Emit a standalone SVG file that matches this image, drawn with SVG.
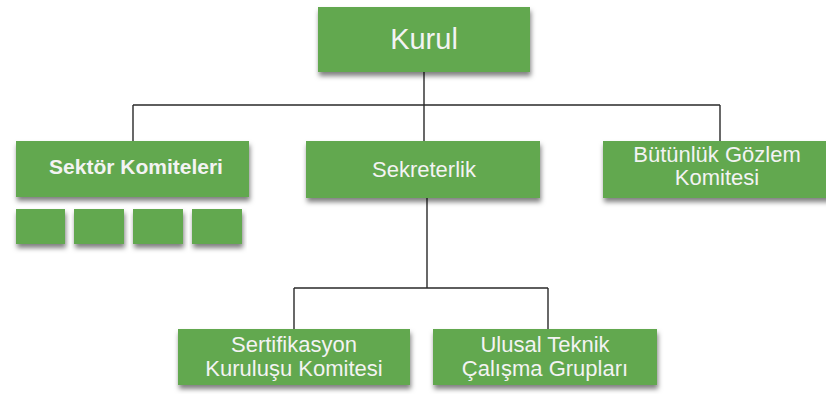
<svg xmlns="http://www.w3.org/2000/svg" width="826" height="394" viewBox="0 0 826 394">
  <style>
    .box { fill: #62a850; filter: url(#shadow); }
    .lbl { font-family: "Liberation Sans", Arial, sans-serif; font-size: 22px; fill: #f3f3f3; text-anchor: middle; }
    .big { font-size: 29px; }
    .strong { font-size: 21px; font-weight: bold; }
    .wire { fill: none; stroke: #2a2a2a; stroke-width: 1.4; }
  </style>
  <defs>
    <filter id="shadow" x="-10%" y="-20%" width="120%" height="160%">
      <feDropShadow dx="1" dy="4" stdDeviation="2.5" flood-color="#000" flood-opacity="0.5"/>
    </filter>
  </defs>
  <rect width="826" height="394" fill="#ffffff"/>

  <g id="connectors">
    <path class="wire" d="M424 72 V105 M133 105 H720 M133 105 V141 M424 105 V141 M720 105 V141"/>
    <path class="wire" d="M427 198 V288 M294 288 H548 M294 288 V329 M548 288 V329"/>
  </g>

  <g id="kurul">
    <rect class="box" x="318" y="7" width="212" height="65"/>
    <text class="lbl big" x="424" y="49">Kurul</text>
  </g>

  <g id="sektor-komiteleri">
    <rect class="box" x="16" y="141" width="233" height="56"/>
    <text class="lbl strong" x="136" y="174">Sektör Komiteleri</text>
  </g>

  <g id="sektor-alt">
    <rect class="box" x="16" y="209" width="49" height="35"/>
    <rect class="box" x="74" y="209" width="50" height="35"/>
    <rect class="box" x="133" y="209" width="50" height="35"/>
    <rect class="box" x="192" y="209" width="50" height="35"/>
  </g>

  <g id="sekreterlik">
    <rect class="box" x="306" y="141" width="234" height="57"/>
    <text class="lbl" x="424" y="177">Sekreterlik</text>
  </g>

  <g id="butunluk-gozlem">
    <rect class="box" x="603" y="141" width="236" height="57"/>
    <text class="lbl" x="717" y="162">Bütünlük Gözlem</text>
    <text class="lbl" x="717" y="185">Komitesi</text>
  </g>

  <g id="sertifikasyon">
    <rect class="box" x="178" y="329" width="232" height="56"/>
    <text class="lbl" x="294" y="352">Sertifikasyon</text>
    <text class="lbl" x="294" y="376">Kuruluşu Komitesi</text>
  </g>

  <g id="ulusal-teknik">
    <rect class="box" x="433" y="329" width="224" height="56"/>
    <text class="lbl" x="545" y="352">Ulusal Teknik</text>
    <text class="lbl" x="545" y="376">Çalışma Grupları</text>
  </g>
</svg>
